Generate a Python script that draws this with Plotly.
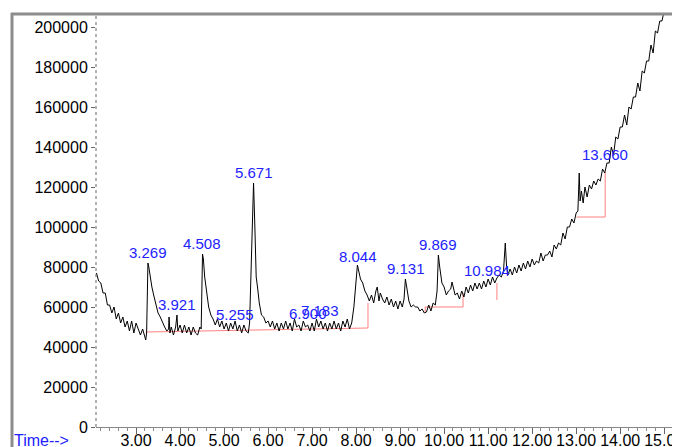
import plotly.graph_objects as go

# ---------------- data ----------------
time_min = [
    2.10, 2.15, 2.20, 2.25, 2.30, 2.35, 2.40, 2.45, 2.50, 2.55, 2.60, 2.65, 2.70, 2.75, 2.80, 2.85,
    2.90, 2.95, 3.00, 3.05, 3.10, 3.15, 3.20, 3.22, 3.24,
    3.27, 3.29, 3.32, 3.36, 3.40, 3.45, 3.50, 3.55, 3.60, 3.65, 3.70, 3.74, 3.75, 3.77, 3.80, 3.85,
    3.90, 3.93, 3.95, 4.00, 4.05, 4.10, 4.15, 4.20, 4.25, 4.30, 4.35, 4.40, 4.45, 4.48,
    4.51, 4.53, 4.56, 4.60, 4.65, 4.70, 4.75, 4.80, 4.85, 4.90, 4.95, 5.00, 5.05, 5.10, 5.15, 5.20,
    5.25, 5.30, 5.35, 5.40, 5.45, 5.50, 5.55, 5.58,
    5.62, 5.65, 5.67, 5.70, 5.73, 5.76, 5.80, 5.85, 5.90, 5.95, 6.00, 6.05, 6.10, 6.15, 6.20, 6.25,
    6.30, 6.35, 6.40, 6.45, 6.50, 6.55, 6.60, 6.65, 6.70, 6.75, 6.80, 6.85, 6.90, 6.95, 7.00, 7.05,
    7.10, 7.15, 7.20, 7.25, 7.30, 7.35, 7.40, 7.45, 7.50, 7.55, 7.60, 7.65, 7.70, 7.75, 7.80, 7.85,
    7.90, 7.95,
    8.00, 8.03, 8.06, 8.10, 8.15, 8.20, 8.25, 8.30, 8.35, 8.40, 8.45, 8.48, 8.52, 8.55, 8.60, 8.65,
    8.70, 8.75, 8.80, 8.85, 8.90, 8.95, 9.00, 9.05, 9.09,
    9.12, 9.15, 9.20, 9.25, 9.30, 9.35, 9.40, 9.45, 9.50, 9.55, 9.60, 9.65, 9.70, 9.75, 9.80, 9.84,
    9.87, 9.90, 9.95, 10.00, 10.05, 10.10, 10.15, 10.18, 10.22, 10.25, 10.30, 10.35, 10.40, 10.45,
    10.50, 10.55, 10.60, 10.65, 10.70, 10.75, 10.80, 10.85, 10.90, 10.95, 11.00, 11.05, 11.10, 11.15,
    11.20, 11.25, 11.30, 11.35, 11.39, 11.42, 11.45, 11.50, 11.55, 11.60, 11.65, 11.70, 11.75, 11.80,
    11.85, 11.90, 11.95,
    12.00, 12.05, 12.10, 12.15, 12.20, 12.25, 12.30, 12.35, 12.40, 12.45, 12.50, 12.55, 12.60, 12.65,
    12.70, 12.75, 12.80, 12.85, 12.90, 12.95, 13.00, 13.04, 13.07, 13.09, 13.12, 13.16, 13.20, 13.25,
    13.30, 13.35, 13.40, 13.45, 13.50, 13.55, 13.60, 13.65, 13.70, 13.75, 13.80, 13.85, 13.90, 13.95,
    14.00, 14.05, 14.10, 14.15, 14.20, 14.25, 14.30, 14.35, 14.40, 14.45, 14.50, 14.55, 14.60, 14.65,
    14.70, 14.75, 14.80, 14.85, 14.90, 14.95, 15.00, 15.05, 15.10,
]
abundance_k = [
    77, 73, 72, 67, 67, 61, 61, 57, 60, 54, 57, 52, 55, 50, 53, 48,
    53, 47, 52, 49, 46, 49, 45, 43.5, 47,
    82, 80, 75, 70, 66, 61, 57, 55, 52, 50, 48, 49, 55, 47, 50, 46,
    50, 56, 48, 51, 47, 51, 47, 50, 46, 50, 47, 46, 50, 49,
    86.5, 84, 75, 68, 60, 56, 54, 51, 54, 50, 53, 49, 52, 48, 52, 49,
    53, 48, 51, 47, 51, 48, 47, 52,
    80, 110, 122, 100, 75, 70, 62, 56, 55, 52, 53, 50, 53, 49, 52, 48,
    52, 49, 53, 49, 52, 48, 54, 50, 51, 48, 53, 50, 51, 48, 52, 48,
    54, 50, 53, 49, 52, 48, 52, 49, 53, 49, 52, 48, 53, 50, 54, 49,
    52, 60,
    75, 81, 78, 74, 72, 68, 66, 63, 66, 62, 68, 70, 63, 67, 64, 62,
    65, 61, 64, 60, 63, 59, 63, 60, 64,
    74, 70, 63, 60, 61, 60, 60, 58, 59, 57, 57.5, 61, 58, 62, 61, 68,
    86, 80, 72, 70, 66, 68, 69, 72.5, 68, 66, 67, 64, 68, 65,
    70, 67, 71, 68, 72, 69, 72, 69, 73, 70, 74, 71, 75, 72,
    74.5, 76, 75, 78, 92, 80, 76, 79, 76, 80, 77, 81, 78, 82,
    79, 83, 80,
    84, 81, 83, 82, 87, 83, 86, 86, 88, 85, 91, 89, 92, 91,
    97, 94, 100, 100, 104, 102, 107, 108, 127, 113, 118, 112, 120, 115,
    121, 119, 123, 121, 124, 123, 129, 127, 132, 132, 140, 136, 145, 144,
    150, 150, 156, 151, 160, 159, 165, 165, 172, 168, 178, 177, 183, 183,
    191, 187, 198, 197, 203, 203, 208, 206, 212,
]

# integration baselines (red)
base_t = [3.22, 4.49, 5.58, 8.27, 8.27, None, 9.57, 9.57, 10.43, 10.43, None,
          11.20, 11.20, None, 13.01, 13.66, 13.66]
base_k = [47.5, 48.0, 48.5, 49.5, 62.0, None, 57.5, 60.0, 60.0, 67.0, None,
          63.5, 72.0, None, 105.0, 105.0, 127.5]

# labelled peaks: retention time and apex abundance
peak_rt = [3.269, 3.921, 4.508, 5.255, 5.671, 6.900, 7.183, 8.044, 9.131, 9.869, 10.984, 13.660]
peak_top_k = [82, 56, 86.5, 51, 122, 51.5, 53, 80, 74, 86, 73, 131]

y_ticks = [0, 20000, 40000, 60000, 80000, 100000, 120000, 140000, 160000, 180000, 200000]

# ---------------- figure ----------------
abundance = [v * 1000 for v in abundance_k]
base_y = [None if v is None else v * 1000 for v in base_k]
peak_top = [v * 1000 for v in peak_top_k]

FONT = "Liberation Sans, Arial, sans-serif"
OFF = 8  # page body margin offset
W, H = 680 - OFF, 447 - OFF
L, R, T = 96 - OFF, 0, 14 - OFF
B = H - (427 - OFF)
pw, ph = W - L - R, H - T - B

def px(p):  # screen x pixel -> paper
    return (p - OFF - L) / pw

def py(q):  # screen y pixel -> paper
    return (H - B - (q - OFF)) / ph

fig = go.Figure()
fig.add_trace(go.Scatter(x=base_t, y=base_y, mode="lines",
                         line=dict(color="#ff8080", width=1), hoverinfo="skip",
                         connectgaps=False))
fig.add_trace(go.Scatter(x=time_min, y=abundance, mode="lines",
                         line=dict(color="#000000", width=1)))

for rt, top in zip(peak_rt, peak_top):
    fig.add_annotation(x=rt, y=top, text=f"{rt:.3f}", showarrow=False,
                       xanchor="center", yanchor="bottom", yshift=0,
                       font=dict(family=FONT, size=15, color="#2222ff"))

fig.add_annotation(xref="paper", yref="paper", x=px(12), y=py(440), text="Time-->",
                   showarrow=False, xanchor="left", yanchor="middle",
                   font=dict(family=FONT, size=16, color="#2222ff"))

# frame and dotted y axis
fig.add_shape(type="line", xref="paper", yref="paper", x0=px(12), x1=px(12),
              y0=py(447), y1=py(13), line=dict(color="#8c8c8c", width=3))
fig.add_shape(type="line", xref="paper", yref="paper", x0=px(11), x1=1.0,
              y0=py(14), y1=py(14), line=dict(color="#8c8c8c", width=3))
fig.add_shape(type="line", xref="paper", yref="paper", x0=0, x1=0,
              y0=0, y1=py(14), line=dict(color="#666", width=1, dash="dot"))

fig.update_layout(
    width=W, height=H, margin=dict(l=L, r=R, t=T, b=B, autoexpand=False),
    paper_bgcolor="white", plot_bgcolor="white", showlegend=False,
    font=dict(family=FONT, size=16, color="black"),
)
fig.update_xaxes(range=[2.09, 15.36], dtick=1, tick0=0, tickformat=".2f", automargin=False,
                 showgrid=False, zeroline=False, showline=True, linecolor="#888", linewidth=1,
                 ticks="outside", ticklen=6, tickcolor="#666", tickwidth=1,
                 minor=dict(dtick=0.2, ticks="outside", ticklen=3, tickcolor="#888", showgrid=False),
                 tickfont=dict(family=FONT, size=16, color="black"), ticklabelstandoff=-7,
                 ticklabeloverflow="allow")
fig.update_yaxes(range=[0, 206500], tickvals=y_ticks, ticktext=[str(v) for v in y_ticks],
                 automargin=False,
                 showgrid=False, zeroline=False, showline=False,
                 ticks="outside", ticklen=4, tickcolor="#666",
                 tickfont=dict(family=FONT, size=16, color="black"))

fig.write_html("out.html")
